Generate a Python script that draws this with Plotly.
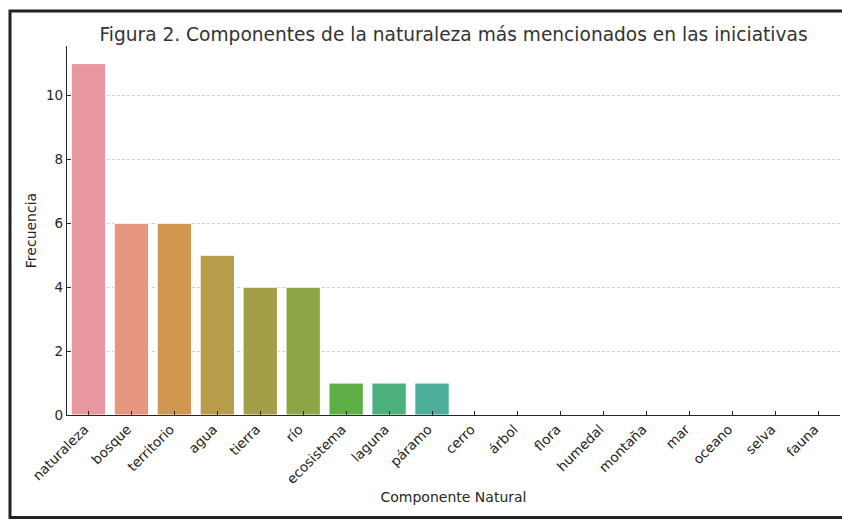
import plotly.graph_objects as go

categories = ["naturaleza", "bosque", "territorio", "agua", "tierra", "río", "ecosistema",
              "laguna", "páramo", "cerro", "árbol", "flora", "humedal", "montaña", "mar",
              "oceano", "selva", "fauna"]
frecuencia = [11, 6, 6, 5, 4, 4, 1, 1, 1, 0, 0, 0, 0, 0, 0, 0, 0, 0]
colors = ["#e8969f", "#e6967e", "#d09650", "#b89c4c", "#a39e48", "#8ca546", "#5faf47",
          "#4bb07c", "#4bae99", "#4aabb0", "#4ca8c6", "#6aa3e0", "#9a9ae6", "#b791e3",
          "#d28ad6", "#e48bc4", "#e88db2", "#e8929f"]
title_text = "Figura 2. Componentes de la naturaleza más mencionados en las iniciativas"

W, H = 842, 520
L, R, T, B = 67, 2, 46, 105
pw, ph = W - L - R, H - T - B

def px(x):
    return (x - L) / pw

def py(y):
    return (H - B - y) / ph

fig = go.Figure(go.Bar(
    x=list(range(len(categories))), y=frecuencia,
    marker=dict(color=colors, line=dict(color="white", width=1)),
    width=0.8, hoverinfo="skip",
))

txt = "#262626"
fig.update_layout(
    width=W, height=H,
    margin=dict(l=L, r=R, t=T, b=B),
    paper_bgcolor="white", plot_bgcolor="white",
    font=dict(family="DejaVu Sans", size=13.5, color=txt),
    showlegend=False,
    title=dict(text=title_text, xref="paper", x=0.5, xanchor="center",
               yref="container", y=1 - 34 / H, yanchor="middle",
               font=dict(size=18.6, color="#333333")),
    bargap=0.2,
)
fig.update_xaxes(
    range=[-0.5, 17.5], tickmode="array", tickvals=list(range(len(categories))),
    ticktext=categories, tickangle=-45, showline=True, linecolor="#262626",
    linewidth=1.2, ticks="inside", ticklen=4, tickcolor="#262626", showgrid=False,
    zeroline=False, tickfont=dict(size=13.5, color=txt), ticklabelshift=-4,
    title=dict(text="Componente Natural", font=dict(size=14, color=txt), standoff=6),
)
fig.update_yaxes(
    range=[0, 11.55], tickvals=[0, 2, 4, 6, 8, 10], showline=True, linecolor="#262626",
    linewidth=1.2, ticks="inside", ticklen=4, tickcolor="#262626",
    showgrid=True, gridcolor="#d0d0d0", griddash="3px,2px", gridwidth=0.8,
    zeroline=False, tickfont=dict(size=13.5, color=txt),
    title=dict(text="Frecuencia", font=dict(size=14, color=txt), standoff=6),
)
fig.add_shape(type="rect", xref="paper", yref="paper",
              x0=px(10), x1=px(845), y0=py(517.5), y1=py(11),
              line=dict(color="#222222", width=3), fillcolor="rgba(0,0,0,0)", layer="above")
fig.write_html("out.html", config={"displayModeBar": False},
               post_script="document.body.style.margin='0';document.body.style.overflow='hidden';")
